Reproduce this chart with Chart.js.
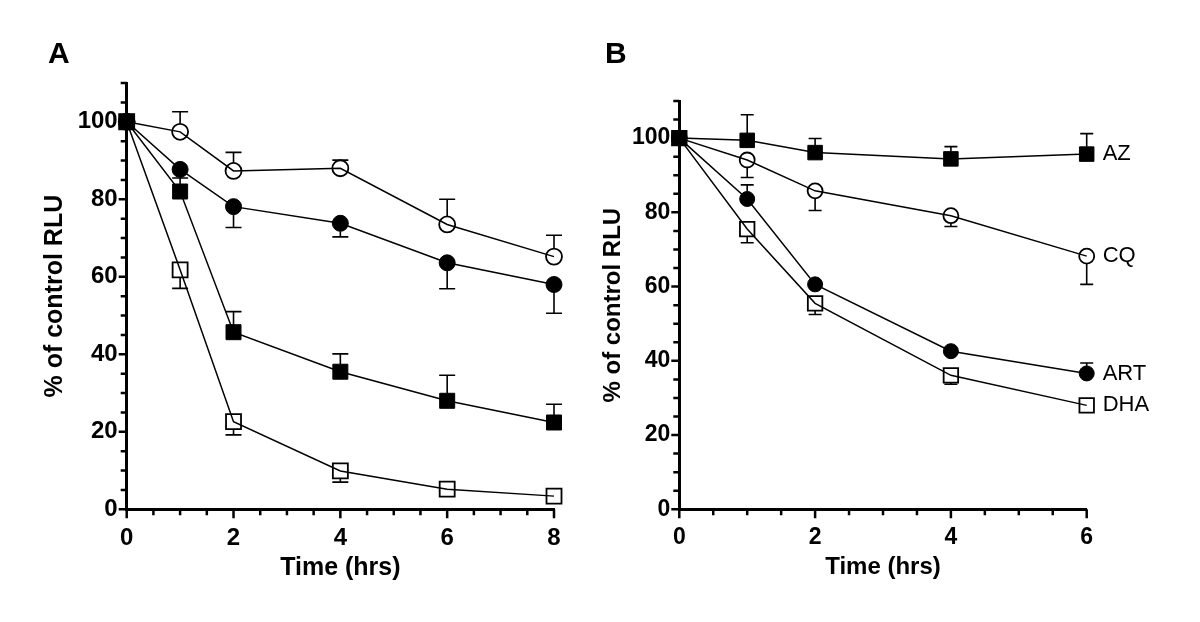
<!DOCTYPE html>
<html lang="en">
<head>
<meta charset="UTF-8">
<title>% of control RLU over time</title>
<script src="https://cdn.jsdelivr.net/npm/chart.js"></script>
<style>
  body { margin: 0; background: #fff; }
  #wrap { position: relative; width: 1200px; height: 622px; overflow: hidden; }
  #chartA { position: absolute; left: 0; top: 0; }
  #chartB { position: absolute; left: 580px; top: 0; }
</style>
</head>
<body>
<div id="wrap">
  <canvas id="chartA" width="580" height="622"></canvas>
  <canvas id="chartB" width="620" height="622"></canvas>
</div>
<script>
const FONT = '"Liberation Sans", Arial, Helvetica, sans-serif';

// Panel A
const timesA = [0, 1, 2, 4, 6, 8];
const filledSquareA = [100, 82, 45.7, 35.5, 28, 22.4];
const filledSquareErrA = [null, 85.5, 51, 40.1, 34.6, 27.1];
const filledCircleA = [100, 87.7, 78.1, 73.8, 63.6, 58];
const filledCircleErrA = [null, null, 72.7, 70.3, 56.9, 50.6];
const openCircleA = [100, 97.4, 87.3, 88, 73.5, 65.2];
const openCircleErrA = [null, 102.6, 92.1, 90.1, 80, 70.7];
const openSquareA = [100, 61.8, 22.6, 9.9, 5.2, 3.4];
const openSquareErrA = [null, 57, 19.2, 7, null, null];

// Panel B
const timesB = [0, 1, 2, 4, 6];
const namesB = ['AZ', 'CQ', 'ART', 'DHA'];
const azB = [100, 99.4, 96.1, 94.4, 95.7];
const azErrB = [null, 106.3, 99.9, 97.7, 101.2];
const cqB = [100, 94.1, 85.8, 79.1, 68.2];
const cqErrB = [null, 89.4, 80.5, 76.2, 60.6];
const artB = [100, 83.6, 60.6, 42.6, 36.6];
const artErrB = [null, 87.4, null, null, 39.4];
const dhaB = [100, 75.5, 55.5, 36.1, 28];
const dhaErrB = [null, 71.8, 52.5, 33.7, null];

const yLabels = [0, 20, 40, 60, 80, 100];
const yMax = 110;

function series(label, times, values, errs, kind, size, cap) {
  const square = kind.indexOf('Square') >= 0;
  const filled = kind.indexOf('filled') === 0;
  return {
    label: label,
    data: times.map((t, i) => ({ x: t, y: values[i] })),
    errEnd: errs,
    half: size / 2,
    cap: cap,
    borderColor: '#000',
    borderWidth: 1.5,
    pointStyle: square ? 'rect' : 'circle',
    pointRadius: square ? size / Math.SQRT2 : size / 2,
    pointHoverRadius: square ? size / Math.SQRT2 : size / 2,
    pointBackgroundColor: filled ? '#000' : 'rgba(0,0,0,0)',
    pointBorderColor: '#000',
    pointBorderWidth: filled ? 1 : 1.8,
    fill: false,
    tension: 0,
    clip: false
  };
}

// error bars start at the marker edge and end with a cap
const errorBars = {
  id: 'errorBars',
  afterDatasetsDraw(chart) {
    const { ctx, scales: { x, y } } = chart;
    ctx.save();
    ctx.strokeStyle = '#000';
    ctx.lineWidth = 1.6;
    chart.data.datasets.forEach(ds => {
      if (!ds.errEnd) return;
      ds.data.forEach((p, i) => {
        const e = ds.errEnd[i];
        if (e == null) return;
        const px = x.getPixelForValue(p.x);
        const py = y.getPixelForValue(p.y);
        const pe = y.getPixelForValue(e);
        const dir = pe > py ? 1 : -1;
        const start = py + dir * ds.half;
        ctx.beginPath();
        if (Math.abs(pe - py) > ds.half) {
          ctx.moveTo(px, start);
          ctx.lineTo(px, pe);
        }
        ctx.moveTo(px - ds.cap / 2, pe);
        ctx.lineTo(px + ds.cap / 2, pe);
        ctx.stroke();
      });
    });
    ctx.restore();
  }
};

// major / minor tick marks, panel letter, end labels
const decorations = {
  id: 'decorations',
  afterDraw(chart, args, o) {
    const { ctx, scales: { x, y } } = chart;
    ctx.save();
    ctx.strokeStyle = '#000';
    ctx.lineWidth = 2.5;
    ctx.beginPath();
    for (let v = 0; v <= yMax + 1e-9; v += 5) {
      const py = y.getPixelForValue(v);
      const len = yLabels.indexOf(v) >= 0 ? 8 : 6;
      ctx.moveTo(x.left, py);
      ctx.lineTo(x.left - len, py);
    }
    for (let v = 0; v <= o.xMax + 1e-9; v += 0.5) {
      const px = x.getPixelForValue(v);
      const len = v % 2 === 0 ? 9 : 6;
      ctx.moveTo(px, y.bottom);
      ctx.lineTo(px, y.bottom + len);
    }
    ctx.stroke();

    ctx.fillStyle = '#000';
    ctx.textBaseline = 'alphabetic';
    ctx.textAlign = 'left';
    ctx.font = 'bold 30px ' + FONT;
    ctx.fillText(o.letter, o.letterX, 63);

    if (o.endLabels) {
      ctx.font = '22px ' + FONT;
      ctx.textBaseline = 'middle';
      chart.data.datasets.forEach(ds => {
        const last = ds.data[ds.data.length - 1];
        ctx.fillText(ds.label, x.getPixelForValue(last.x) + 16, y.getPixelForValue(last.y));
      });
    }
    ctx.restore();
  }
};

function scales(xMax, yWidth, xHeight, tickSize, titleSize, yTitlePad, xTitlePad) {
  return {
    x: {
      type: 'linear',
      min: 0,
      max: xMax,
      ticks: {
        stepSize: 2,
        color: '#000',
        padding: 15,
        maxRotation: 0,
        font: { family: FONT, size: tickSize, weight: 'bold' }
      },
      grid: { display: false, drawTicks: false },
      border: { display: true, color: '#000', width: 3 },
      title: {
        display: true,
        text: 'Time (hrs)',
        color: '#000',
        font: { family: FONT, size: titleSize, weight: 'bold' },
        padding: { top: 0, bottom: xTitlePad }
      },
      afterFit: s => { s.height = xHeight; }
    },
    y: {
      type: 'linear',
      min: 0,
      max: yMax,
      ticks: {
        stepSize: 20,
        color: '#000',
        padding: 9,
        font: { family: FONT, size: tickSize, weight: 'bold' },
        callback: v => (yLabels.indexOf(v) >= 0 ? v : '')
      },
      grid: { display: false, drawTicks: false },
      border: { display: true, color: '#000', width: 3 },
      title: {
        display: true,
        text: '% of control RLU',
        color: '#000',
        font: { family: FONT, size: titleSize, weight: 'bold' },
        padding: { top: yTitlePad, bottom: 0 }
      },
      afterFit: s => { s.width = yWidth; }
    }
  };
}

new Chart(document.getElementById('chartA'), {
  type: 'line',
  data: {
    datasets: [
      series('filledSquare', timesA, filledSquareA, filledSquareErrA, 'filledSquare', 15, 16),
      series('filledCircle', timesA, filledCircleA, filledCircleErrA, 'filledCircle', 16, 16),
      series('openCircle', timesA, openCircleA, openCircleErrA, 'openCircle', 16, 16),
      series('openSquare', timesA, openSquareA, openSquareErrA, 'openSquare', 15, 16)
    ]
  },
  options: {
    responsive: false,
    animation: false,
    layout: { autoPadding: false, padding: { left: 0, right: 26, top: 83, bottom: 0 } },
    plugins: {
      legend: { display: false },
      tooltip: { enabled: false },
      decorations: { letter: 'A', letterX: 48, xMax: 8, endLabels: false }
    },
    scales: scales(8, 126.7, 112.7, 24, 25, 40, 39)
  },
  plugins: [errorBars, decorations]
});

new Chart(document.getElementById('chartB'), {
  type: 'line',
  data: {
    datasets: [
      series(namesB[0], timesB, azB, azErrB, 'filledSquare', 14.5, 13),
      series(namesB[2], timesB, artB, artErrB, 'filledCircle', 15, 13),
      series(namesB[1], timesB, cqB, cqErrB, 'openCircle', 15, 13),
      series(namesB[3], timesB, dhaB, dhaErrB, 'openSquare', 14.5, 13)
    ]
  },
  options: {
    responsive: false,
    animation: false,
    layout: { autoPadding: false, padding: { left: 0, right: 113.3, top: 101, bottom: 0 } },
    plugins: {
      legend: { display: false },
      tooltip: { enabled: false },
      decorations: { letter: 'B', letterX: 25, xMax: 6, endLabels: true }
    },
    scales: scales(6, 99.3, 112.7, 23, 24, 19, 40)
  },
  plugins: [errorBars, decorations]
});
</script>
</body>
</html>
